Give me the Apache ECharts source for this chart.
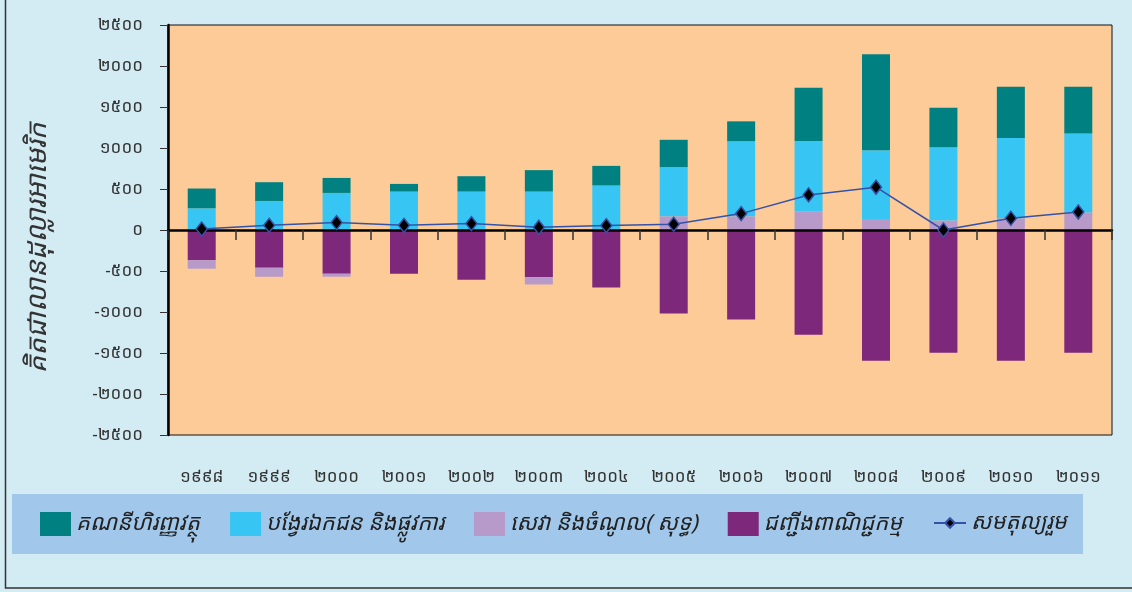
<!DOCTYPE html>
<html>
<head>
    <meta http-equiv="Content-Type" content="text/html; charset=utf-8">
    <title>Balance of payments</title>
    <script src="https://cdn.jsdelivr.net/npm/echarts@6/dist/echarts.min.js"></script>
    <style>
        html, body {margin:0; padding:0; background:#d3ebf3;}
    </style>
</head>
<body>
    <div id="main" style="width: 1132px;height:592px;"></div>
    <script type="text/javascript">
        // years (Khmer digits)
        var years = ['១៩៩៨','១៩៩៩','២០០០','២០០១','២០០២','២០០៣','២០០៤','២០០៥','២០០៦','២០០៧','២០០៨','២០០៩','២០១០','២០១១'];
        // millions USD
        var financial = [241, 229, 183, 93, 187, 261, 239, 334, 241, 651, 1169, 481, 626, 569];
        var transfers = [265, 354, 452, 469, 469, 469, 543, 599, 917, 856, 840, 895, 978, 965];
        var services  = [-105, -110, -37, 0, 0, -90, 0, 167, 167, 228, 134, 115, 143, 213];
        var trade     = [-367, -460, -533, -533, -606, -574, -700, -1018, -1091, -1278, -1596, -1498, -1596, -1498];
        var overall   = [12, 57, 90, 57, 78, 33, 54, 70, 200, 428, 522, 0, 143, 220];

        var names = ['គណនីហិរញ្ញវត្ថុ', 'បង្វែរឯកជន និងផ្លូវការ', 'សេវា និងចំណូល( សុទ្ធ)', 'ជញ្ជីងពាណិជ្ជកម្ម', 'សមតុល្យរួម'];

        var KH = '០១២៣៤៥៦៧៨៩';
        function toKhmer(v){
            return String(v).replace(/[0-9]/g, function(d){ return KH[+d]; });
        }
        var font = '"Noto Sans Khmer", "Khmer OS", "Noto Sans", sans-serif';
        var legendText = {fontSize: 22, fontStyle: 'italic', color: '#222', fontFamily: font};

        var myChart = echarts.init(document.getElementById('main'));

        function bar(name, data, color){
            return {name: name, type: 'bar', stack: 'bop', barWidth: 28,
                    itemStyle: {color: color}, data: data};
        }

        var option = {
            backgroundColor: '#d3ebf3',
            animation: false,
            textStyle: {fontFamily: font},
            graphic: [
                // outer frame (left & bottom visible)
                {type: 'rect', shape: {x: 5.5, y: -5, width: 1140, height: 593},
                 style: {fill: null, stroke: '#333', lineWidth: 1.5}, silent: true},
                // legend box
                {type: 'rect', shape: {x: 12, y: 494, width: 1071, height: 60},
                 style: {fill: '#a1c7ea'}, silent: true, z: -1}
            ],
            grid: {left: 168, top: 25, right: 20, bottom: 157, show: true,
                   outerBoundsMode: 'none', containLabel: false,
                   backgroundColor: '#fdcb98', borderColor: '#111', borderWidth: 1},
            legend: [{
                data: [names[0], names[1], names[2], names[3]],
                left: 35, top: 507, itemWidth: 31, itemHeight: 24, itemGap: 30,
                icon: 'rect', textStyle: legendText
            }, {
                data: [names[4]],
                left: 928, top: 507, itemWidth: 32, itemHeight: 12,
                textStyle: legendText
            }],
            xAxis: [{
                // year labels under the plot
                type: 'category', data: years, position: 'bottom',
                axisLine: {show: false, onZero: false}, axisTick: {show: false},
                axisLabel: {margin: 34, fontSize: 17, color: '#333', fontFamily: font}
            }, {
                // zero line with ticks hanging below it
                type: 'category', data: years, position: 'bottom', z: 4,
                axisLine: {onZero: true, lineStyle: {color: '#000', width: 2.5}},
                axisTick: {show: true, length: 10, lineStyle: {color: '#333', width: 1.5}},
                axisLabel: {show: false}
            }],
            yAxis: {
                type: 'value', min: -2500, max: 2500, interval: 500,
                name: 'គិតជាលានដុល្លារអាមេរិក', nameLocation: 'middle', nameGap: 116, nameRotate: 90,
                nameTextStyle: {fontSize: 28, fontStyle: 'italic', color: '#333', fontFamily: font,
                                padding: [0, 36, 0, 0]},
                splitLine: {show: false},
                axisLine: {show: true, lineStyle: {color: '#000', width: 2.5}},
                axisTick: {show: true, length: 8, lineStyle: {color: '#333'}},
                axisLabel: {margin: 25, fontSize: 17, color: '#333', fontFamily: font,
                            formatter: function(v){ return toKhmer(v); }}
            },
            series: [
                bar(names[3], trade, '#7d287b'),
                bar(names[2], services, '#b79ac9'),
                bar(names[1], transfers, '#37c6f3'),
                bar(names[0], financial, '#008080'),
                {
                    name: names[4], type: 'line', data: overall, z: 5,
                    symbol: 'diamond', symbolSize: [11, 14],
                    lineStyle: {color: '#3552a6', width: 1.5},
                    itemStyle: {color: '#000', borderColor: '#3552a6', borderWidth: 1.5}
                }
            ]
        };

        myChart.setOption(option);
    </script>
</body>
</html>
